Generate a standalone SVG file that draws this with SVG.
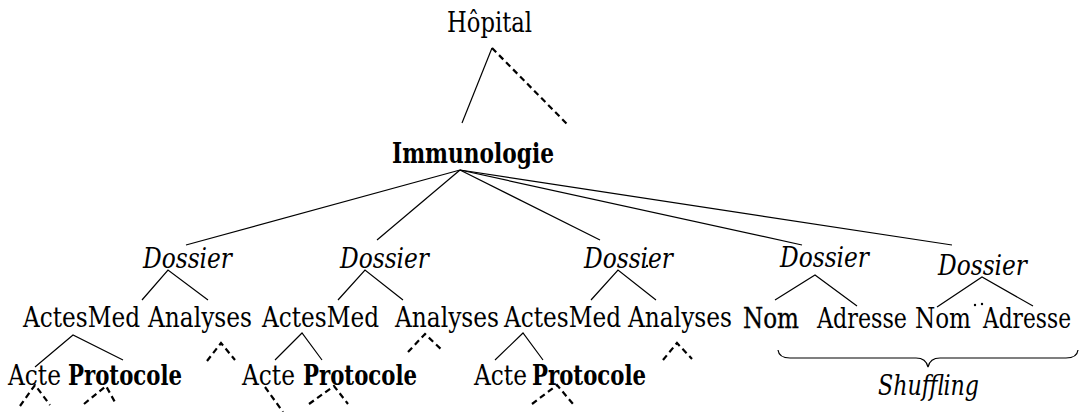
<svg xmlns="http://www.w3.org/2000/svg" width="1079" height="412" viewBox="0 0 1079 412">
  <style>
    .t { font-family: 'DejaVu Serif Condensed', 'DejaVu Serif', serif; font-stretch: condensed; font-size: 27px; fill: #000; }
    .it { font-style: italic; }
    .bd { font-weight: bold; }
    .edge { stroke: #000; stroke-width: 1.2; fill: none; }
    .dash { stroke: #000; stroke-width: 2.2; fill: none; stroke-dasharray: 6 4; }
    .dot { fill: #000; }
  </style>
  <rect width="1079" height="412" fill="#fff"/>

  <!-- tree edges -->
  <g id="connectors">
    <!-- root -->
    <line class="edge" x1="492" y1="48" x2="462" y2="123"/>
    <line class="dash" x1="492" y1="48" x2="567" y2="124"/>
    <!-- Immunologie to each Dossier -->
    <line class="edge" x1="460" y1="170" x2="186" y2="245"/>
    <line class="edge" x1="460" y1="170" x2="377" y2="240"/>
    <line class="edge" x1="460" y1="170" x2="600" y2="240"/>
    <line class="edge" x1="460" y1="170" x2="802" y2="245"/>
    <line class="edge" x1="460" y1="170" x2="952" y2="245"/>
    <!-- Dossier children -->
    <polyline class="edge" points="142,300 168,270 208,300"/>
    <polyline class="edge" points="338,300 365,270 403,300"/>
    <polyline class="edge" points="591,300 618,270 656,300"/>
    <polyline class="edge" points="775,300 815,275 857,306"/>
    <polyline class="edge" points="937,307 982,277 1033,306"/>
    <!-- ActesMed children -->
    <polyline class="edge" points="35,367 73,335 123,360"/>
    <polyline class="edge" points="275,360 302,333 322,360"/>
    <polyline class="edge" points="495,360 523,333 543,360"/>
    <!-- elided subtrees -->
    <polyline class="dash" points="207,361 221,343 235,360"/>
    <polyline class="dash" points="408,352 425,334 443,351"/>
    <polyline class="dash" points="663,360 677,343 692,359"/>
    <polyline class="dash" points="20,406 35,385 50,405"/>
    <polyline class="dash" points="84,404 106,386 116,404"/>
    <line class="dash" x1="265" y1="387" x2="283" y2="412"/>
    <polyline class="dash" points="309,404 334,386 348,404"/>
    <polyline class="dash" points="532,404 557,385 573,404"/>
  </g>

  <g id="hopital"><text class="t" x="447" y="32" textLength="85" lengthAdjust="spacingAndGlyphs">Hôpital</text></g>
  <g id="immunologie"><text class="t bd" x="392" y="163" textLength="162" lengthAdjust="spacingAndGlyphs">Immunologie</text></g>

  <g id="dossier1"><text class="t it" x="143" y="268" textLength="89" lengthAdjust="spacingAndGlyphs">Dossier</text></g>
  <g id="dossier2"><text class="t it" x="340" y="268" textLength="89" lengthAdjust="spacingAndGlyphs">Dossier</text></g>
  <g id="dossier3"><text class="t it" x="584" y="268" textLength="89" lengthAdjust="spacingAndGlyphs">Dossier</text><circle class="dot" cx="647" cy="266" r="1.2"/></g>
  <g id="dossier4"><text class="t it" x="780" y="267" textLength="89" lengthAdjust="spacingAndGlyphs">Dossier</text></g>
  <g id="dossier5"><text class="t it" x="938" y="275" textLength="89" lengthAdjust="spacingAndGlyphs">Dossier</text></g>

  <g id="actesmed1"><text class="t" x="23" y="327" textLength="117" lengthAdjust="spacingAndGlyphs">ActesMed</text></g>
  <g id="analyses1"><text class="t" x="148" y="327" textLength="104" lengthAdjust="spacingAndGlyphs">Analyses</text></g>
  <g id="actesmed2"><text class="t" x="262" y="327" textLength="117" lengthAdjust="spacingAndGlyphs">ActesMed</text></g>
  <g id="analyses2"><text class="t" x="395" y="327" textLength="104" lengthAdjust="spacingAndGlyphs">Analyses</text></g>
  <g id="actesmed3"><text class="t" x="504" y="327" textLength="117" lengthAdjust="spacingAndGlyphs">ActesMed</text></g>
  <g id="analyses3"><text class="t" x="628" y="327" textLength="104" lengthAdjust="spacingAndGlyphs">Analyses</text></g>
  <g id="nom1"><text class="t" x="743" y="328" textLength="56" lengthAdjust="spacingAndGlyphs" stroke="#000" stroke-width="0.3">Nom</text></g>
  <g id="adresse1"><text class="t" x="817" y="328" textLength="90" lengthAdjust="spacingAndGlyphs">Adresse</text></g>
  <g id="nom2"><text class="t" x="915" y="328" textLength="56" lengthAdjust="spacingAndGlyphs">Nom</text><circle class="dot" cx="975" cy="305" r="1.2"/><circle class="dot" cx="982" cy="304" r="1.2"/></g>
  <g id="adresse2"><text class="t" x="983" y="328" textLength="88" lengthAdjust="spacingAndGlyphs">Adresse</text></g>

  <g id="acte1"><text class="t" x="8" y="385" textLength="53" lengthAdjust="spacingAndGlyphs">Acte</text></g>
  <g id="protocole1"><text class="t bd" x="68" y="385" textLength="114" lengthAdjust="spacingAndGlyphs">Protocole</text></g>
  <g id="acte2"><text class="t" x="242" y="385" textLength="53" lengthAdjust="spacingAndGlyphs">Acte</text></g>
  <g id="protocole2"><text class="t bd" x="303" y="385" textLength="114" lengthAdjust="spacingAndGlyphs">Protocole</text></g>
  <g id="acte3"><text class="t" x="474" y="385" textLength="53" lengthAdjust="spacingAndGlyphs">Acte</text><circle class="dot" cx="507" cy="379" r="1.2"/></g>
  <g id="protocole3"><text class="t bd" x="532" y="385" textLength="114" lengthAdjust="spacingAndGlyphs">Protocole</text></g>

  <g id="shuffling">
    <path class="edge" d="M778,350 Q779,358 790,358 L916,358 Q926,358 928,367 Q930,358 940,358 L1066,358 Q1077,358 1078,350"/>
    <text class="t it" x="878" y="395" textLength="101" lengthAdjust="spacingAndGlyphs">Shuffling</text>
  </g>
</svg>
